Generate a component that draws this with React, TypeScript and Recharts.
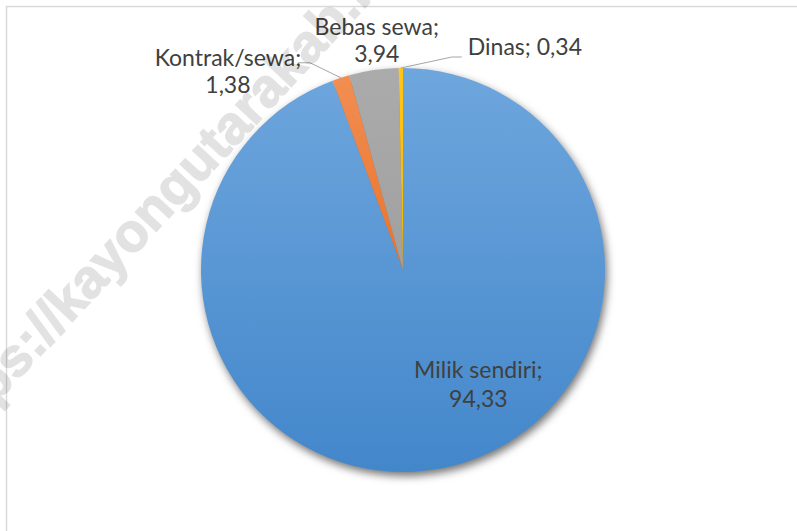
import React from 'react';
import { PieChart, Pie, Cell } from 'recharts';

const categories = ['Milik sendiri', 'Kontrak/sewa', 'Bebas sewa', 'Dinas'];
const values = [94.33, 1.38, 3.94, 0.34];
const valueLabels = ['94,33', '1,38', '3,94', '0,34'];
const gradientTops = ['#6ea6dd', '#f28e52', '#ababab', '#ffc51a'];
const gradientBottoms = ['#4387cb', '#e9732c', '#a0a0a0', '#f5b800'];

const data = categories.map((name, i) => ({ name, value: values[i], valueLabel: valueLabels[i] }));

const TEXT = '#404040';
const FONT = 'Lato, "Open Sans", sans-serif';
const LEADER = '#a6a6a6';
const RAD = Math.PI / 180;

const renderLabel = (props: any) => {
  const { cx, cy, midAngle, outerRadius, index } = props;
  const name = categories[index];
  const val = valueLabels[index];
  const ex = cx + outerRadius * Math.cos(-midAngle * RAD);
  const ey = cy + outerRadius * Math.sin(-midAngle * RAD);
  const common = { fill: TEXT, fontFamily: FONT, fontSize: 23 } as any;
  if (index === 0) {
    const x = cx + outerRadius * 0.373;
    const y = cy + outerRadius * 0.535;
    return (
      <g key="l0">
        <text x={x} y={y} textAnchor="middle" {...common}>{name};</text>
        <text x={x} y={y + 29} textAnchor="middle" {...common}>{val}</text>
      </g>
    );
  }
  if (index === 1) {
    const p1x = ex - 31, p1y = ey - 15;
    const p2x = ex - 43;
    const tx = p2x - 70;
    return (
      <g key="l1">
        <polyline points={`${ex},${ey} ${p1x},${p1y} ${p2x},${p1y}`} fill="none" stroke={LEADER} strokeWidth={1} />
        <text x={tx} y={ey - 12} textAnchor="middle" {...common}>{name};</text>
        <text x={tx} y={ey + 15} textAnchor="middle" {...common}>{val}</text>
      </g>
    );
  }
  if (index === 2) {
    const tx = ex + 3;
    return (
      <g key="l2">
        <text x={tx} y={ey - 35} textAnchor="middle" {...common}>{name};</text>
        <text x={tx} y={ey - 8} textAnchor="middle" {...common}>{val}</text>
      </g>
    );
  }
  const p1x = ex + 51, p1y = ey - 11;
  const p2x = ex + 61;
  return (
    <g key="l3">
      <polyline points={`${ex},${ey} ${p1x},${p1y} ${p2x},${p1y}`} fill="none" stroke={LEADER} strokeWidth={1} />
      <text x={p2x + 6} y={ey - 13} textAnchor="start" {...common}>{name}; {val}</text>
    </g>
  );
};

const PIE_CX = 403;
const PIE_CY = 270;
const PIE_R = 202;

export default function App() {
  return (
    <div style={{ position: 'absolute', left: 0, top: 0, width: 797, height: 531, background: '#fff', overflow: 'hidden' }}>
      <div style={{ position: 'absolute', left: 0, top: 0, filter: 'drop-shadow(2px 4px 4px rgba(0,0,0,0.55))' }}>
        <PieChart width={797} height={531} margin={{ top: 0, right: 0, bottom: 0, left: 0 }}>
          <defs>
            {categories.map((c, i) => (
              <linearGradient key={c} id={`grad${i}`} x1="0" y1="0" x2="0" y2="1">
                <stop offset="0%" stopColor={gradientTops[i]} />
                <stop offset="100%" stopColor={gradientBottoms[i]} />
              </linearGradient>
            ))}
          </defs>
          <Pie
            data={data}
            dataKey="value"
            nameKey="name"
            cx={PIE_CX}
            cy={PIE_CY}
            outerRadius={PIE_R}
            startAngle={90}
            endAngle={-270}
            stroke="none"
            labelLine={false}
            label={false}
            isAnimationActive={false}
          >
            {data.map((d, i) => (
              <Cell key={d.name} fill={`url(#grad${i})`} />
            ))}
          </Pie>
        </PieChart>
      </div>
      <div style={{ position: 'absolute', left: 0, top: 0 }}>
        <PieChart width={797} height={531} margin={{ top: 0, right: 0, bottom: 0, left: 0 }}>
          <Pie
            data={data}
            dataKey="value"
            nameKey="name"
            cx={PIE_CX}
            cy={PIE_CY}
            outerRadius={PIE_R}
            startAngle={90}
            endAngle={-270}
            stroke="none"
            fill="none"
            labelLine={false}
            label={renderLabel}
            isAnimationActive={false}
          >
            {data.map((d) => (
              <Cell key={d.name} fill="none" />
            ))}
          </Pie>
        </PieChart>
      </div>
      <svg width={797} height={531} style={{ position: 'absolute', left: 0, top: 0, pointerEvents: 'none' }}>
        <line x1={6} y1={6.5} x2={797} y2={6.5} stroke="#d9d9d9" strokeWidth={1.5} />
        <line x1={6.5} y1={6} x2={6.5} y2={531} stroke="#d9d9d9" strokeWidth={1.5} />
        <g opacity={0.11}>
          <text
            x={-53}
            y={456}
            transform="rotate(-47 -53 456)"
            fontFamily='"Liberation Sans", Arial, sans-serif'
            fontWeight="bold"
            fontSize={54}
            fill="#000"
            stroke="#000"
            strokeWidth={1.5}
          >
            https://kayongutarakab.bps.go.id
          </text>
        </g>
      </svg>
    </div>
  );
}
